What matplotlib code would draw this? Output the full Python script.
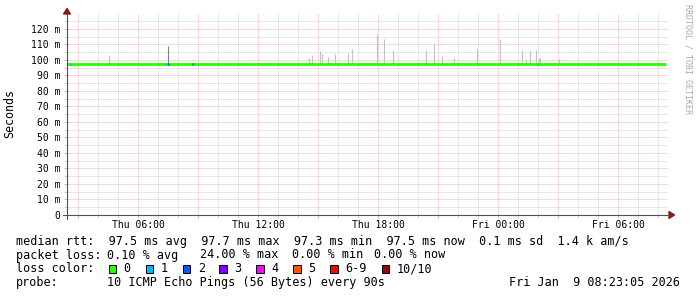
import numpy as np
import pandas as pd
import matplotlib
matplotlib.use("Agg")
import matplotlib.pyplot as plt
import matplotlib.dates as mdates
from matplotlib.ticker import MultipleLocator, FuncFormatter
from matplotlib.patches import Rectangle, Polygon

# ---- data ----
window_start = "2026-01-08 02:27"
window_end = "2026-01-09 08:30"

# median rtt in ms (flat line)
median_times = ["2026-01-08 02:27", "2026-01-08 05:46", "2026-01-08 05:50",
                "2026-01-08 12:00", "2026-01-08 18:00", "2026-01-09 00:00",
                "2026-01-09 06:00", "2026-01-09 08:23"]
median_ms = [97.5, 97.3, 97.5, 97.5, 97.5, 97.5, 97.5, 97.5]

# smoke spikes: time and highest ping in ms
smoke_times = ["2026-01-08 04:32", "2026-01-08 14:32", "2026-01-08 14:42",
               "2026-01-08 15:07", "2026-01-08 15:11", "2026-01-08 15:30",
               "2026-01-08 15:50", "2026-01-08 16:30", "2026-01-08 16:41",
               "2026-01-08 17:57", "2026-01-08 18:18", "2026-01-08 18:45",
               "2026-01-08 20:24", "2026-01-08 20:48", "2026-01-08 21:12",
               "2026-01-08 21:48", "2026-01-08 22:57", "2026-01-09 00:05",
               "2026-01-09 00:21", "2026-01-09 01:11", "2026-01-09 01:24",
               "2026-01-09 01:35", "2026-01-09 01:54", "2026-01-09 02:02",
               "2026-01-09 02:05", "2026-01-09 02:47", "2026-01-09 03:02"]
smoke_top_ms = [103.2, 101.5, 103.2, 105.8, 104.0, 102.0, 103.9, 104.5, 107.0,
                117.0, 113.5, 106.5, 106.5, 110.3, 102.6, 101.3, 107.0, 113.5,
                98.7, 106.5, 100.4, 106.5, 106.5, 101.5, 101.0, 98.7, 100.6]

# single dark spike (one ping out)
dark_times = ["2026-01-08 07:30"]
dark_top_ms = [109.0]

# median segments coloured by packet loss
loss_times = ["2026-01-08 02:38", "2026-01-08 07:25", "2026-01-08 07:32",
              "2026-01-08 08:44", "2026-01-09 01:58"]
loss_level = [1, 1, 3, 2, 1]

loss_labels = ["0", "1", "2", "3", "4", "5", "6-9", "10/10"]
loss_colors = ["#26ff00", "#00b8ff", "#0059ff", "#7e00ff", "#ff00ff",
               "#ff5500", "#ff0000", "#a10000"]

stats_line = "median rtt:  97.5 ms avg  97.7 ms max  97.3 ms min  97.5 ms now  0.1 ms sd  1.4 k am/s"
loss_stats = ["packet loss:", "0.10 % avg", "24.00 % max", "0.00 % min", "0.00 % now"]
probe_text = "10 ICMP Echo Pings (56 Bytes) every 90s"
stamp_text = "Fri Jan  9 08:23:05 2026"


def to_num(ts):
    return mdates.date2num(pd.to_datetime(ts).to_pydatetime())


W, H = 697, 297
MONO = "DejaVu Sans Mono"
fig = plt.figure(figsize=(W / 100, H / 100), dpi=100, facecolor="white")

# plot area in pixels
L, R, T, B = 67, 668, 13.8, 215
ax = fig.add_axes([L / W, 1 - B / H, (R - L) / W, (B - T) / H])
ax.set_facecolor("white")
for s in ax.spines.values():
    s.set_visible(False)

ax.set_xlim(to_num(window_start), to_num(window_end))
ax.set_ylim(0, 129.7)

grid_minor = "#d0d0d0"
grid_major = "#f0b0b0"
ax.xaxis.set_major_locator(mdates.HourLocator(byhour=range(0, 24, 3)))
ax.xaxis.set_minor_locator(mdates.HourLocator())
ax.xaxis.set_major_formatter(FuncFormatter(
    lambda v, p: mdates.num2date(v).strftime("%a %H:%M") if mdates.num2date(v).hour % 6 == 0 else ""))
ax.yaxis.set_major_locator(MultipleLocator(10))
ax.yaxis.set_minor_locator(MultipleLocator(5))
ax.yaxis.set_major_formatter(FuncFormatter(lambda v, p: "0" if v == 0 else f"{v:.0f} m"))

ax.grid(which="minor", color=grid_minor, linestyle=(0, (1, 1)), linewidth=0.72)
ax.grid(which="major", color=grid_major, linestyle=(0, (1, 1)), linewidth=0.72)
ax.set_axisbelow(True)
ax.tick_params(which="major", length=2.2, width=0.72, color=grid_major,
               labelsize=7, labelcolor="black")
ax.tick_params(which="minor", length=2.2, width=0.72, color=grid_minor)
ax.tick_params(axis="x", pad=1.5)
ax.tick_params(axis="y", pad=2.5)
for lab in ax.get_xticklabels() + ax.get_yticklabels():
    lab.set_family(MONO)

# smoke
ax.vlines(to_num(smoke_times), 97.5, smoke_top_ms, color="#c2c2c2", linewidth=0.8, zorder=2)
ax.vlines(to_num(dark_times), 97.5, dark_top_ms, color="#808080", linewidth=0.8, zorder=2)

# median line
ax.step(to_num(median_times), median_ms, where="post", color=loss_colors[0],
        linewidth=2.0, solid_capstyle="butt", zorder=3)
seg = 4 / (24 * 60)
for t, lv in zip(to_num(loss_times), loss_level):
    ax.hlines(97.5, t - seg / 2, t + seg / 2, color=loss_colors[lv], linewidth=2.0, zorder=4)

# overlay in pixel coordinates for axes lines, legend and labels
ov = fig.add_axes([0, 0, 1, 1])
ov.set_xlim(0, W)
ov.set_ylim(H, 0)
ov.axis("off")

axis_col = "#505050"
arrow_col = "#8b1a1a"
ov.plot([L, L], [219, 14], color=axis_col, linewidth=0.8)
ov.plot([63, 669], [B, B], color=axis_col, linewidth=0.8)
ov.add_patch(Polygon([[63.5, 14], [70.5, 14], [67, 8.5]], closed=True, color=arrow_col))
ov.add_patch(Polygon([[669, 211.5], [669, 218.5], [674.5, 215]], closed=True, color=arrow_col))

ov.text(10, 114, "Seconds", rotation=90, ha="center", va="center",
        family=MONO, fontsize=8.4)
ov.text(688, 4, "RRDTOOL / TOBI OETIKER", rotation=-90, ha="center", va="top",
        family=MONO, fontsize=6, color="#aaaaaa")

fs = 8.5
row_y = [241.5, 255, 269, 282.7]
ov.text(16, row_y[0], stats_line, family=MONO, fontsize=fs, va="center")

loss_x = [16, 107.3, 200.3, 292, 373.5]
for x, s in zip(loss_x, loss_stats):
    ov.text(x, row_y[1], s, family=MONO, fontsize=fs, va="center")

ov.text(16, row_y[2], "loss color:", family=MONO, fontsize=fs, va="center")
box_x = [108.7, 145.7, 182.7, 219.3, 256.3, 293.3, 330, 381.7]
for x, c, lab in zip(box_x, loss_colors, loss_labels):
    ov.add_patch(Rectangle((x, row_y[2] - 4), 7.5, 8, facecolor=c,
                           edgecolor="black", linewidth=0.7))
    ov.text(x + 15, row_y[2], lab, family=MONO, fontsize=fs, va="center")

ov.text(16, row_y[3], "probe:", family=MONO, fontsize=fs, va="center")
ov.text(107.3, row_y[3], probe_text, family=MONO, fontsize=fs, va="center")
ov.text(680, row_y[3], stamp_text, family=MONO, fontsize=fs, va="center", ha="right")

fig.savefig("out.png", dpi=100, facecolor="white")
